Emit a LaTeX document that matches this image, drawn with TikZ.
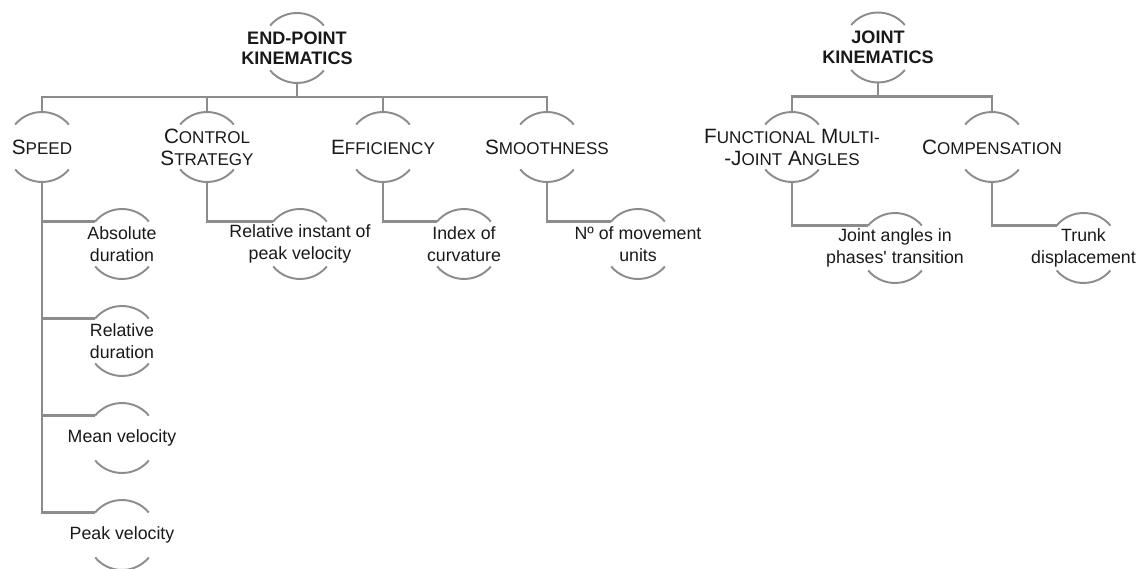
\documentclass[tikz,border=0pt]{standalone}
\usepackage{fontspec}
\setmainfont{Liberation Sans}
\usepackage{tikz}
\usetikzlibrary{calc,positioning}

\definecolor{linegray}{RGB}{140,140,140}
\definecolor{textgray}{RGB}{25,25,25}

\tikzstyle{root} = [align=center, inner sep=0pt, text=textgray,
                    font=\fontsize{10.3}{11.4}\selectfont\bfseries]
\tikzstyle{cat}  = [align=center, inner sep=0pt, text=textgray,
                    font=\fontsize{11.8}{12.5}\selectfont]
\tikzstyle{leaf} = [align=center, inner sep=0pt, text=textgray,
                    font=\fontsize{10.1}{12.5}\selectfont]
\tikzstyle{halfline} = [draw=linegray, line width=1.1pt]
\tikzstyle{link}     = [draw=linegray, line width=1.5pt]

\newcommand{\crad}{0.7cm}
% first letter full size, the rest smaller (small caps look)
\newcommand{\bigsc}[2]{#1{\fontsize{9.7}{12.5}\selectfont #2}}
% the two half rings round a node, plus its link points
\newcommand{\halfrings}[1]{
  \draw[halfline] ($(#1.center)+(40:\crad)$) arc[start angle=40, end angle=140, radius=\crad];
  \draw[halfline] ($(#1.center)+(220:\crad)$) arc[start angle=220, end angle=320, radius=\crad];
  \coordinate (#1-top) at ($(#1.center)+(90:\crad)$);
  \coordinate (#1-bot) at ($(#1.center)+(270:\crad)$);
  \coordinate (#1-in)  at ($(#1.center)+(140:\crad)$);
}

\begin{document}
\begin{tikzpicture}
		\useasboundingbox (0,0) rectangle (22.84,-11.38);

		% end-point tree
		\node[root] (epk) at (5.94,-0.96) {END-POINT\\KINEMATICS};
		\node[cat] (speed)  at (0.84,-2.94) {\bigsc{S}{PEED}};
		\node[cat] (ctrl)   at (4.14,-2.94) {\bigsc{C}{ONTROL}\\\bigsc{S}{TRATEGY}};
		\node[cat] (eff)    at (7.66,-2.94) {\bigsc{E}{FFICIENCY}};
		\node[cat] (smooth) at (10.94,-2.94) {\bigsc{S}{MOOTHNESS}};

		\node[leaf] (absdur) at (2.44,-4.88) {Absolute\\duration};
		\node[leaf, below of=absdur, node distance=1.94cm] (reldur) {Relative\\duration};
		\node[leaf, below of=reldur, node distance=1.94cm] (meanvel) {Mean velocity};
		\node[leaf, below of=meanvel, node distance=1.94cm] (peakvel) {Peak velocity};
		\node[leaf] (relinst) at (6.0,-4.88) {Relative instant of\\peak velocity};
		\node[leaf] (curv)    at (9.28,-4.88) {Index of\\curvature};
		\node[leaf] (nmov)    at (12.76,-4.88) {Nº of movement\\units};

		% joint tree
		\node[root] (jk) at (17.56,-0.95) {JOINT\\KINEMATICS};
		\node[cat] (fmja) at (15.84,-2.94) {\bigsc{F}{UNCTIONAL} \bigsc{M}{ULTI-}\\\bigsc{-J}{OINT} \bigsc{A}{NGLES}};
		\node[cat] (comp) at (19.84,-2.94) {\bigsc{C}{OMPENSATION}};
		\node[leaf] (jang)  at (17.9,-4.96) {Joint angles in\\phases\textquotesingle{} transition};
		\node[leaf] (trunk) at (21.67,-4.96) {Trunk\\displacement};

		\halfrings{epk} \halfrings{speed} \halfrings{ctrl} \halfrings{eff} \halfrings{smooth}
		\halfrings{absdur} \halfrings{reldur} \halfrings{meanvel} \halfrings{peakvel}
		\halfrings{relinst} \halfrings{curv} \halfrings{nmov}
		\halfrings{jk} \halfrings{fmja} \halfrings{comp} \halfrings{jang} \halfrings{trunk}

		\coordinate (epkbar) at ($(epk-bot)+(0,-0.28)$);
		\draw[link] (epk-bot) -- (epkbar);
		\draw[link] (epkbar) -| (speed-top);
		\draw[link] (epkbar) -| (ctrl-top);
		\draw[link] (epkbar) -| (eff-top);
		\draw[link] (epkbar) -| (smooth-top);

		\draw[link] (speed-bot) |- (absdur-in);
		\draw[link] (speed-bot) |- (reldur-in);
		\draw[link] (speed-bot) |- (meanvel-in);
		\draw[link] (speed-bot) |- (peakvel-in);
		\draw[link] (ctrl-bot) |- (relinst-in);
		\draw[link] (eff-bot) |- (curv-in);
		\draw[link] (smooth-bot) |- (nmov-in);

		\coordinate (jkbar) at ($(jk-bot)+(0,-0.28)$);
		\draw[link] (jk-bot) -- (jkbar);
		\draw[link] (jkbar) -| (fmja-top);
		\draw[link] (jkbar) -| (comp-top);
		\draw[link] (fmja-bot) |- (jang-in);
		\draw[link] (comp-bot) |- (trunk-in);
	\end{tikzpicture}
\end{document}
